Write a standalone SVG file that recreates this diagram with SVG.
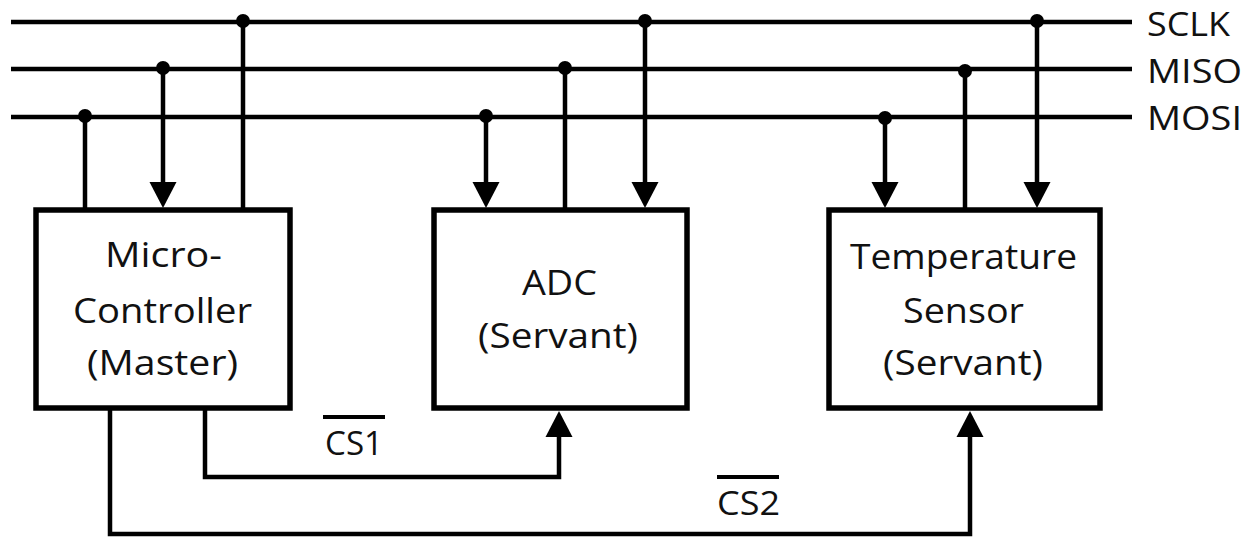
<svg xmlns="http://www.w3.org/2000/svg" width="1257" height="537" viewBox="0 0 1257 537">
<style>
.bus{stroke:#000;stroke-width:4.5;fill:none}
.wire{stroke:#000;stroke-width:4.5;fill:none}
.box{fill:#fff;stroke:#000;stroke-width:5.5}
.dot{fill:#000}
.head{fill:#000}
text{font-family:"Open Sans","Noto Sans",sans-serif;fill:#111}
.lbl{font-size:33px}
.nt{font-size:35px}
.ov{stroke:#000;stroke-width:4}
</style>
<rect width="1257" height="537" fill="#fff"/>
<g id="connectors">
<line class="bus" x1="11" y1="22" x2="1132" y2="22"/>
<line class="bus" x1="11" y1="69" x2="1132" y2="69"/>
<line class="bus" x1="11" y1="117" x2="1132" y2="117"/>
<line class="wire" x1="85" y1="117" x2="85" y2="210"/>
<line class="wire" x1="163" y1="69" x2="163" y2="185"/>
<polygon class="head" points="149.5,182 176.5,182 163,208"/>
<line class="wire" x1="243" y1="22" x2="243" y2="210"/>
<line class="wire" x1="486" y1="117" x2="486" y2="185"/>
<polygon class="head" points="472.5,182 499.5,182 486,208"/>
<line class="wire" x1="565" y1="69" x2="565" y2="210"/>
<line class="wire" x1="645" y1="22" x2="645" y2="185"/>
<polygon class="head" points="631.5,182 658.5,182 645,208"/>
<line class="wire" x1="885" y1="117" x2="885" y2="185"/>
<polygon class="head" points="871.5,182 898.5,182 885,208"/>
<line class="wire" x1="965" y1="69" x2="965" y2="210"/>
<line class="wire" x1="1037" y1="22" x2="1037" y2="185"/>
<polygon class="head" points="1023.5,182 1050.5,182 1037,208"/>
<polyline class="wire" points="205,408 205,477 559,477 559,434"/>
<polygon class="head" points="545.5,437 572.5,437 559,411"/>
<polyline class="wire" points="110,408 110,534 970,534 970,434"/>
<polygon class="head" points="956.5,437 983.5,437 970,411"/>
<circle class="dot" cx="85" cy="116" r="7"/>
<circle class="dot" cx="163" cy="68" r="7"/>
<circle class="dot" cx="243" cy="21" r="7"/>
<circle class="dot" cx="486" cy="116" r="7"/>
<circle class="dot" cx="565" cy="68" r="7"/>
<circle class="dot" cx="645" cy="21" r="7"/>
<circle class="dot" cx="885" cy="118" r="7"/>
<circle class="dot" cx="965" cy="71" r="7"/>
<circle class="dot" cx="1037" cy="21" r="7"/>
</g>
<g id="bus-labels">
<text class="lbl" x="1147" y="36" textLength="83" lengthAdjust="spacingAndGlyphs">SCLK</text>
<text class="lbl" x="1147" y="83" textLength="95" lengthAdjust="spacingAndGlyphs">MISO</text>
<text class="lbl" x="1147" y="130" textLength="95" lengthAdjust="spacingAndGlyphs">MOSI</text>
</g>
<g id="master">
<rect class="box" x="36" y="210" width="254" height="198"/>
<text class="nt" x="105" y="267" textLength="117" lengthAdjust="spacingAndGlyphs">Micro-</text>
<text class="nt" x="73" y="323" textLength="179" lengthAdjust="spacingAndGlyphs">Controller</text>
<text class="nt" x="87" y="375" textLength="151" lengthAdjust="spacingAndGlyphs">(Master)</text>
</g>
<g id="adc">
<rect class="box" x="434" y="210" width="253" height="198"/>
<text class="nt" x="522" y="295" textLength="75" lengthAdjust="spacingAndGlyphs">ADC</text>
<text class="nt" x="478" y="348" textLength="160" lengthAdjust="spacingAndGlyphs">(Servant)</text>
</g>
<g id="temp-sensor">
<rect class="box" x="829" y="210" width="271" height="198"/>
<text class="nt" x="850" y="269" textLength="227" lengthAdjust="spacingAndGlyphs">Temperature</text>
<text class="nt" x="903" y="323" textLength="121" lengthAdjust="spacingAndGlyphs">Sensor</text>
<text class="nt" x="883" y="375" textLength="160" lengthAdjust="spacingAndGlyphs">(Servant)</text>
</g>
<g id="cs-labels">
<line class="ov" x1="323" y1="417" x2="385" y2="417"/>
<text class="lbl" x="325" y="455" textLength="58" lengthAdjust="spacingAndGlyphs">CS1</text>
<line class="ov" x1="717" y1="477" x2="779" y2="477"/>
<text class="lbl" x="717" y="515" textLength="63" lengthAdjust="spacingAndGlyphs">CS2</text>
</g>
</svg>
